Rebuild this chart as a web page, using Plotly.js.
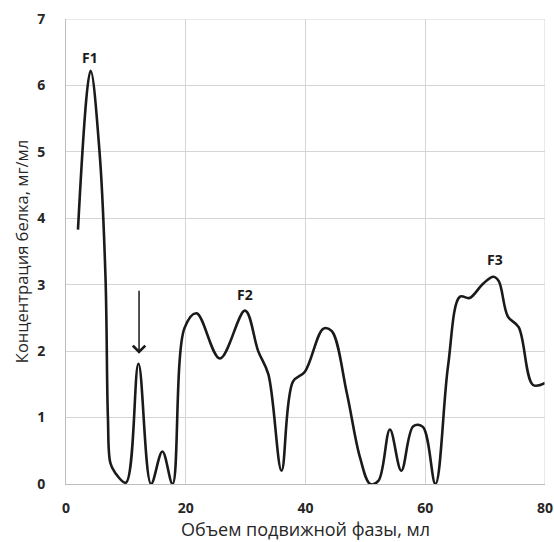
<!DOCTYPE html>
<html>
<head>
<meta charset="utf-8">
<script src="https://cdn.plot.ly/plotly-3.0.1.min.js"></script>
<style>
  html, body { margin: 0; padding: 0; background: #ffffff; }
  #chart { width: 554px; height: 542px; }
</style>
</head>
<body>
<div id="chart"></div>
<script>
// Elution profile: protein concentration vs. mobile phase volume
const volumeMl = [2.0, 4.1, 5.6, 6.6, 7.0, 7.4, 8.2, 10.0, 12.1, 14.2, 16.1, 17.8,
  19.8, 21.8, 25.7, 29.9, 32.1, 33.8, 36.0, 37.9, 39.9, 43.0, 44.4, 46.9, 49.1, 50.8,
  52.2, 54.1, 56.0, 58.0, 59.6, 61.7, 63.8, 65.8, 67.4, 69.7, 71.4, 72.3, 73.8, 75.6,
  78.0, 80.0];
const proteinMgMl = [3.83, 6.22, 5.0, 3.1, 1.0, 0.32, 0.17, 0.02, 1.81, 0.0, 0.49, 0.0,
  2.35, 2.57, 1.89, 2.61, 2.0, 1.65, 0.2, 1.54, 1.69, 2.34, 2.3, 1.37, 0.4, 0.0,
  0.05, 0.82, 0.2, 0.87, 0.86, 0.0, 1.77, 2.82, 2.8, 3.02, 3.12, 3.05, 2.52, 2.36,
  1.49, 1.52];

// Fraction labels and their positions
const fractionNames = ['F1', 'F2', 'F3'];
const fractionX = [4.0, 29.9, 71.6];
const fractionY = [6.42, 2.86, 3.38];

// Arrow marking the small peak
const arrowX = 12.2;
const arrowFromY = 2.93;
const arrowToY = 1.96;

const xTicks = [0, 20, 40, 60, 80];
const yTicks = [0, 1, 2, 3, 4, 5, 6, 7];

const FONT = 'Open Sans, Liberation Sans, sans-serif';

const annotations = fractionNames.map((name, i) => ({
  x: fractionX[i], y: fractionY[i], xref: 'x', yref: 'y',
  text: '<b>' + name + '</b>', showarrow: false,
  font: { family: FONT, size: 14, color: '#1a1a1a' }
}));
annotations.push({
  x: arrowX, y: arrowToY, ax: arrowX, ay: arrowFromY,
  xref: 'x', yref: 'y', axref: 'x', ayref: 'y',
  text: '', showarrow: true, arrowhead: 4, arrowsize: 1.6, arrowwidth: 1.5,
  arrowcolor: '#1a1a1a'
});

const trace = {
  x: volumeMl, y: proteinMgMl, type: 'scatter', mode: 'lines',
  line: { color: '#1a1a1a', width: 2.6, shape: 'spline', smoothing: 1 },
  hoverinfo: 'skip'
};

const layout = {
  width: 554, height: 542,
  margin: { l: 66, r: 9, t: 19, b: 58 },
  paper_bgcolor: '#ffffff', plot_bgcolor: '#ffffff',
  showlegend: false,
  font: { family: FONT, color: '#262626' },
  xaxis: {
    range: [0, 80], tickvals: xTicks, ticktext: xTicks.map(v => '<b>' + v + '</b>'),
    showgrid: true, gridcolor: '#d4d4d4', gridwidth: 1,
    showline: true, linecolor: '#bdbdbd', linewidth: 1,
    zeroline: false, ticks: '', ticklabelstandoff: 11,
    tickfont: { family: FONT, size: 14, color: '#262626' },
    title: { text: 'Объем подвижной фазы, мл', standoff: 6,
      font: { family: FONT, size: 18, color: '#262626' } }
  },
  yaxis: {
    range: [0, 7], tickvals: yTicks, ticktext: yTicks.map(v => '<b>' + v + '</b>'),
    showgrid: true, gridcolor: '#d4d4d4', gridwidth: 1,
    showline: true, linecolor: '#bdbdbd', linewidth: 1,
    zeroline: false, ticks: '', ticklabelstandoff: 17,
    tickfont: { family: FONT, size: 14, color: '#262626' },
    title: { text: 'Концентрация белка, мг/мл', standoff: 4,
      font: { family: FONT, size: 16.5, color: '#262626' } }
  },
  annotations: annotations,
  shapes: [
    { type: 'line', xref: 'x', yref: 'y', x0: 80, x1: 80, y0: 0, y1: 7,
      line: { color: '#d4d4d4', width: 1 } },
    { type: 'line', xref: 'x', yref: 'y', x0: 0, x1: 80, y0: 7, y1: 7,
      line: { color: '#d4d4d4', width: 1 } }
  ]
};

Plotly.newPlot('chart', [trace], layout, { displayModeBar: false, staticPlot: true });
</script>
</body>
</html>
